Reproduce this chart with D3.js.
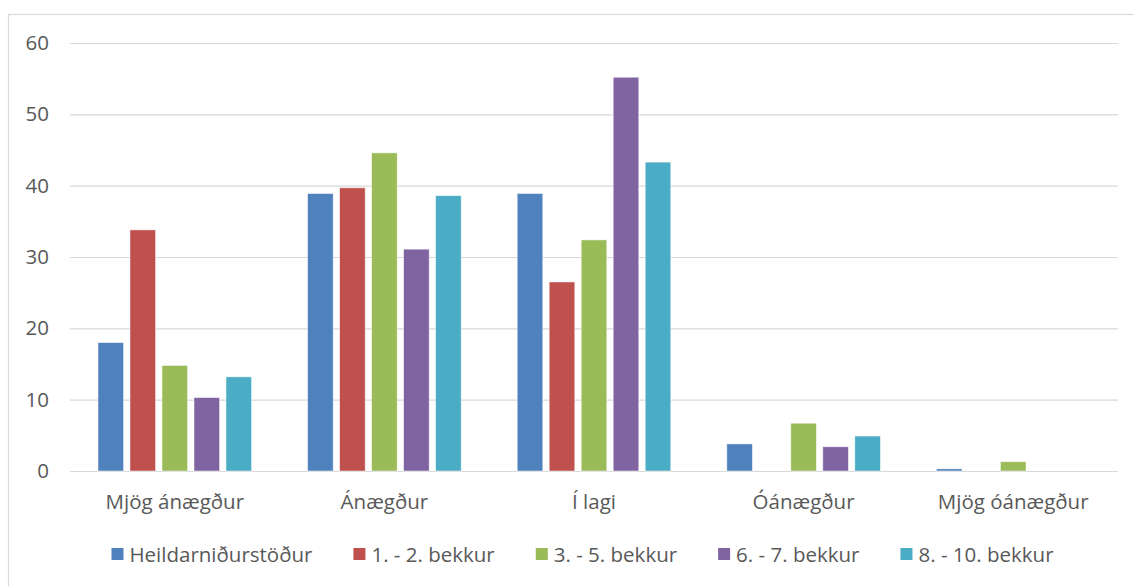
<!DOCTYPE html>
<html>
<head>
<meta charset="utf-8">
<script src="https://cdn.jsdelivr.net/npm/d3@7"></script>
<style>
  body { margin: 0; background: #fff; }
  svg text { font-family: "Open Sans", sans-serif; fill: #595959; }
</style>
</head>
<body>
<svg id="chart"></svg>
<script>
const categories = ["Mjög ánægður", "Ánægður", "Í lagi", "Óánægður", "Mjög óánægður"];
const seriesNames = ["Heildarniðurstöður", "1. - 2. bekkur", "3. - 5. bekkur", "6. - 7. bekkur", "8. - 10. bekkur"];
const seriesColors = ["#4f81bd", "#c0504d", "#9bbb59", "#8064a2", "#4bacc6"];
const heild = [18.0, 38.9, 38.9, 3.8, 0.3];
const bekkur12 = [33.8, 39.7, 26.5, 0, 0];
const bekkur35 = [14.8, 44.6, 32.4, 6.7, 1.3];
const bekkur67 = [10.3, 31.1, 55.2, 3.4, 0];
const bekkur810 = [13.2, 38.6, 43.3, 4.9, 0];
const yTicks = [0, 10, 20, 30, 40, 50, 60];

const seriesValues = [heild, bekkur12, bekkur35, bekkur67, bekkur810];

const width = 1134, height = 586;
const margin = { top: 43, right: 16, bottom: 115, left: 70 };
const innerW = width - margin.left - margin.right;
const innerH = height - margin.top - margin.bottom;
const fontSize = 20.5;

const svg = d3.select("#chart").attr("width", width).attr("height", height);

// outer chart frame
svg.append("rect")
  .attr("x", 8.5).attr("y", 14.5)
  .attr("width", width + 10).attr("height", height + 10)
  .attr("fill", "none").attr("stroke", "#d9d9d9").attr("stroke-width", 1.2);

const g = svg.append("g").attr("transform", `translate(${margin.left},${margin.top})`);

const x0 = d3.scaleBand().domain(categories).range([0, innerW]);
const x1 = d3.scaleBand().domain(seriesNames).range([0, x0.bandwidth()])
  .paddingInner(0.2).paddingOuter(0.875);
const y = d3.scaleLinear().domain([0, 60]).range([innerH, 0]);

// gridlines + y labels
const yAxis = g.append("g").call(d3.axisLeft(y).tickValues(yTicks).tickSize(-innerW).tickPadding(21));
yAxis.select(".domain").remove();
yAxis.selectAll(".tick line").attr("stroke", "#d9d9d9").attr("stroke-width", 1.2);
yAxis.selectAll(".tick text").attr("font-size", fontSize).style("fill", "#595959");

// bars
const groups = g.selectAll("g.cat")
  .data(categories)
  .join("g")
  .attr("class", "cat")
  .attr("transform", (d) => `translate(${x0(d)},0)`);

groups.selectAll("rect")
  .data((c, i) => seriesNames.map((s, k) => ({ s, k, v: seriesValues[k][i] })))
  .join("rect")
  .attr("x", (d) => x1(d.s))
  .attr("width", x1.bandwidth())
  .attr("y", (d) => y(d.v))
  .attr("height", (d) => innerH - y(d.v))
  .attr("fill", (d) => seriesColors[d.k])
  .attr("stroke", "#ffffff")
  .attr("stroke-opacity", 0.6)
  .attr("stroke-width", 0.8);

// x labels
const xAxis = g.append("g").attr("transform", `translate(0,${innerH})`)
  .call(d3.axisBottom(x0).tickSize(0).tickPadding(23));
xAxis.select(".domain").remove();
xAxis.selectAll(".tick text").attr("font-size", fontSize).style("fill", "#595959");

// legend
const legend = svg.append("g").attr("transform", "translate(0,562)");
const items = legend.selectAll("g")
  .data(seriesNames)
  .join("g");
items.append("rect")
  .attr("y", -14).attr("width", 12).attr("height", 12)
  .attr("fill", (d, i) => seriesColors[i]);
items.append("text")
  .attr("x", 18)
  .attr("font-size", fontSize)
  .text((d) => d);

let cursor = 0;
const gap = 41;
const offsets = [];
items.each(function () {
  const w = 18 + this.querySelector("text").getComputedTextLength();
  offsets.push(cursor);
  cursor += w + gap;
});
const total = cursor - gap;
const startX = 582.5 - total / 2;
items.attr("transform", (d, i) => `translate(${startX + offsets[i]},0)`);
</script>
</body>
</html>
